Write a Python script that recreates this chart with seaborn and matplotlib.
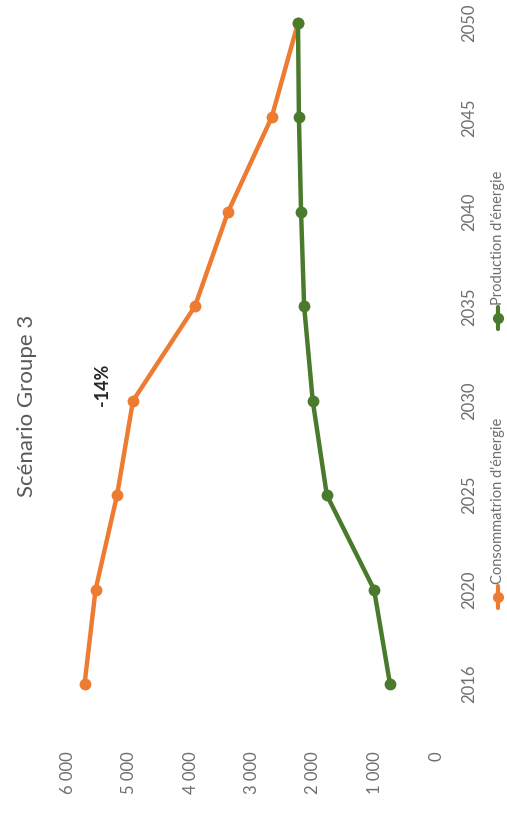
import matplotlib
matplotlib.use("Agg")
import matplotlib.pyplot as plt
from matplotlib.lines import Line2D
import seaborn as sns
import pandas as pd

years = ["2016", "2020", "2025", "2030", "2035", "2040", "2045", "2050"]
consommation = [5730, 5550, 5200, 4940, 3930, 3390, 2680, 2250]
production = [750, 1010, 1780, 2010, 2150, 2200, 2235, 2250]
series_names = ["Consommatrion d'énergie", "Production d'énergie"]
value_ticks = [0, 1000, 2000, 3000, 4000, 5000, 6000]
title = "Scénario Groupe 3"
annotation = "-14%"

ORANGE = "#ED7B31"
GREEN = "#4A7A2C"
GREY = "#595959"
TICK_GREY = "#6E6E6E"

sns.set_theme(style="white")
plt.rcParams["font.family"] = ["Lato", "DejaVu Sans"]

rows = []
for name, vals in zip(series_names, [consommation, production]):
    for i, v in enumerate(vals):
        rows.append({"serie": name, "idx": i, "valeur": v})
df = pd.DataFrame(rows)

W, H = 507, 817
fig = plt.figure(figsize=(W / 100, H / 100), dpi=100)
fig.patch.set_facecolor("white")

# chart laid on its side: values run right-to-left, years bottom-to-top
left, right, top, bottom = 68, 436, 5, 735
ax = fig.add_axes([left / W, 1 - bottom / H, (right - left) / W, (bottom - top) / H])

sns.lineplot(data=df, x="valeur", y="idx", hue="serie", orient="y",
             palette={series_names[0]: ORANGE, series_names[1]: GREEN},
             marker="o", markersize=8.5, markeredgewidth=0, linewidth=3.2,
             sort=False, legend=False, ax=ax)

ax.set_xlim(6000, 0)
step = 94.43
ax.set_ylim((684 - bottom) / step, (684 - top) / step)

ax.set_xticks(value_ticks)
ax.set_xticklabels([f"{v:,}".replace(",", " ") for v in value_ticks],
                   rotation=90, color=TICK_GREY, fontsize=12)
ax.set_yticks(range(len(years)))
ax.yaxis.tick_right()
ax.set_yticklabels(years, rotation=90, va="center", color=TICK_GREY, fontsize=12)
ax.tick_params(axis="x", length=0, pad=12)
ax.tick_params(axis="y", length=0, pad=18)
ax.set_xlabel("")
ax.set_ylabel("")
for s in ax.spines.values():
    s.set_visible(False)
ax.grid(False)

# percentage label beside the 2030 consumption point
ax.text(consommation[3] + 500, 3 + 0.17, annotation, rotation=90,
        ha="center", va="center", fontsize=13, fontweight="bold", color="#262626")

fig.text(27 / W, 1 - 406 / H, title, rotation=90, ha="center", va="center",
         fontsize=16, color=GREY)

# legend drawn sideways
for (cy, color, name) in [(597, ORANGE, series_names[0]), (318, GREEN, series_names[1])]:
    x = 498 / W
    fig.add_artist(Line2D([x, x], [1 - (cy + 11) / H, 1 - (cy - 11) / H],
                          transform=fig.transFigure, color=color, linewidth=3))
    fig.add_artist(Line2D([x], [1 - cy / H], transform=fig.transFigure,
                          color=color, marker="o", markersize=8, markeredgewidth=0))
    fig.text(x, 1 - (cy - 13) / H, name, rotation=90, ha="center", va="bottom",
             fontsize=10.5, color=TICK_GREY)

fig.savefig("out.png", dpi=100, facecolor="white")
